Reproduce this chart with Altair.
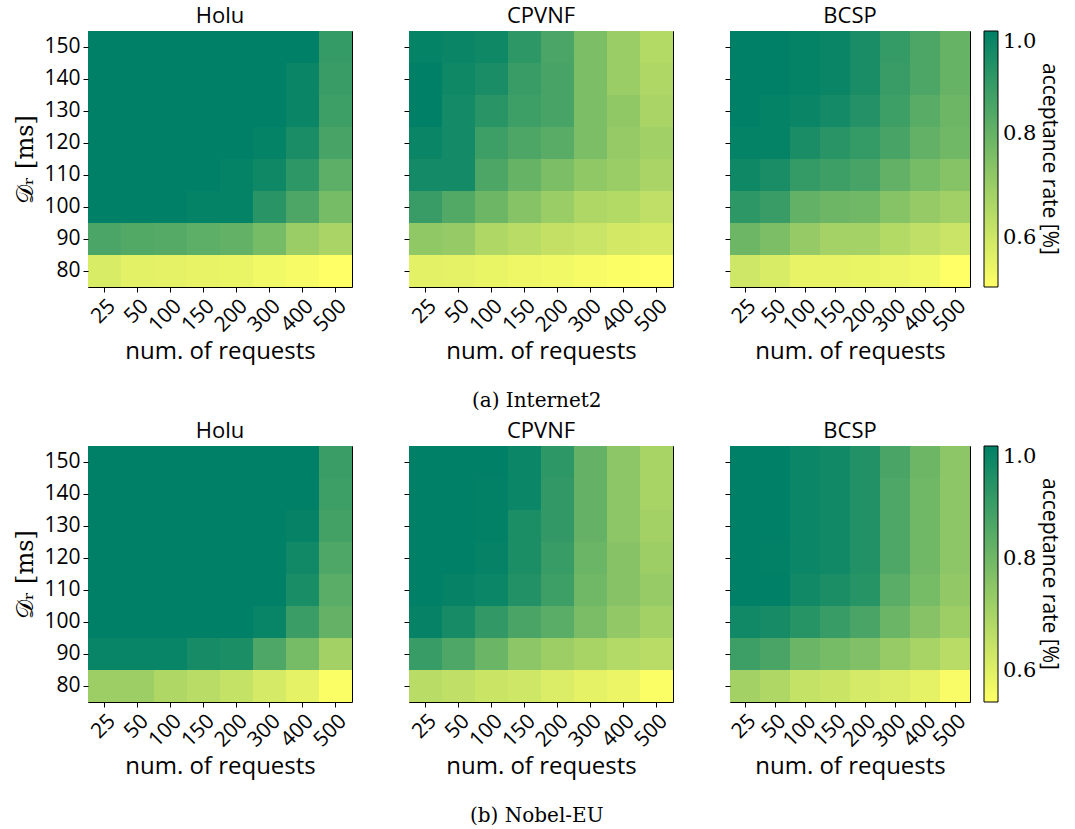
import altair as alt
import pandas as pd

# Axis categories
requests = ["25", "50", "100", "150", "200", "300", "400", "500"]
delays = ["150", "140", "130", "120", "110", "100", "90", "80"]

# Acceptance rates, one row per delay budget (150 ms at top down to 80 ms)
i2_holu = [
    [1.00, 1.00, 1.00, 1.00, 1.00, 1.00, 1.00, 0.90],
    [1.00, 1.00, 1.00, 1.00, 1.00, 1.00, 0.98, 0.89],
    [1.00, 1.00, 1.00, 1.00, 1.00, 1.00, 0.98, 0.88],
    [1.00, 1.00, 1.00, 1.00, 1.00, 0.99, 0.95, 0.86],
    [1.00, 1.00, 1.00, 1.00, 0.99, 0.97, 0.91, 0.82],
    [1.00, 1.00, 1.00, 0.99, 0.99, 0.92, 0.85, 0.77],
    [0.855, 0.84, 0.835, 0.82, 0.81, 0.77, 0.70, 0.67],
    [0.58, 0.56, 0.555, 0.55, 0.545, 0.53, 0.52, 0.505],
]
i2_cpvnf = [
    [0.99, 0.98, 0.97, 0.91, 0.855, 0.76, 0.70, 0.65],
    [1.00, 0.97, 0.95, 0.89, 0.86, 0.76, 0.70, 0.66],
    [1.00, 0.96, 0.92, 0.88, 0.86, 0.76, 0.72, 0.67],
    [0.98, 0.96, 0.88, 0.85, 0.83, 0.76, 0.71, 0.69],
    [0.96, 0.96, 0.85, 0.80, 0.76, 0.72, 0.70, 0.67],
    [0.89, 0.84, 0.79, 0.74, 0.70, 0.66, 0.65, 0.63],
    [0.72, 0.71, 0.66, 0.64, 0.62, 0.61, 0.59, 0.585],
    [0.56, 0.555, 0.545, 0.535, 0.53, 0.52, 0.51, 0.505],
]
i2_bcsp = [
    [1.00, 1.00, 0.99, 0.98, 0.95, 0.90, 0.85, 0.80],
    [1.00, 1.00, 0.99, 0.98, 0.95, 0.89, 0.85, 0.80],
    [1.00, 0.99, 0.98, 0.96, 0.93, 0.88, 0.83, 0.79],
    [0.99, 0.99, 0.95, 0.92, 0.90, 0.86, 0.81, 0.78],
    [0.97, 0.95, 0.90, 0.88, 0.86, 0.81, 0.77, 0.74],
    [0.91, 0.89, 0.81, 0.79, 0.78, 0.74, 0.71, 0.69],
    [0.79, 0.76, 0.71, 0.68, 0.68, 0.65, 0.63, 0.61],
    [0.60, 0.58, 0.55, 0.55, 0.545, 0.54, 0.53, 0.505],
]

eu_holu = [
    [1.00, 1.00, 1.00, 1.00, 1.00, 1.00, 1.00, 0.895],
    [1.00, 1.00, 1.00, 1.00, 1.00, 1.00, 1.00, 0.89],
    [1.00, 1.00, 1.00, 1.00, 1.00, 1.00, 0.99, 0.88],
    [1.00, 1.00, 1.00, 1.00, 1.00, 1.00, 0.97, 0.86],
    [1.00, 1.00, 1.00, 1.00, 1.00, 1.00, 0.955, 0.84],
    [1.00, 1.00, 1.00, 1.00, 1.00, 0.985, 0.895, 0.82],
    [0.985, 0.985, 0.985, 0.96, 0.95, 0.86, 0.79, 0.71],
    [0.72, 0.72, 0.69, 0.67, 0.65, 0.62, 0.59, 0.55],
]
eu_cpvnf = [
    [1.00, 1.00, 1.00, 0.98, 0.918, 0.82, 0.75, 0.70],
    [1.00, 1.00, 0.995, 0.98, 0.91, 0.82, 0.75, 0.70],
    [1.00, 1.00, 0.995, 0.95, 0.91, 0.82, 0.75, 0.71],
    [1.00, 1.00, 0.99, 0.95, 0.90, 0.81, 0.76, 0.72],
    [1.00, 0.99, 0.98, 0.94, 0.89, 0.80, 0.76, 0.73],
    [0.99, 0.96, 0.91, 0.87, 0.84, 0.78, 0.74, 0.71],
    [0.90, 0.86, 0.81, 0.75, 0.72, 0.70, 0.68, 0.67],
    [0.67, 0.66, 0.64, 0.63, 0.61, 0.59, 0.58, 0.55],
]
eu_bcsp = [
    [1.00, 1.00, 0.98, 0.97, 0.94, 0.87, 0.805, 0.75],
    [1.00, 1.00, 0.98, 0.97, 0.94, 0.86, 0.80, 0.75],
    [1.00, 1.00, 0.98, 0.97, 0.94, 0.86, 0.80, 0.75],
    [1.00, 0.995, 0.98, 0.97, 0.94, 0.86, 0.80, 0.75],
    [1.00, 1.00, 0.97, 0.95, 0.93, 0.84, 0.79, 0.74],
    [0.97, 0.96, 0.93, 0.90, 0.87, 0.81, 0.76, 0.72],
    [0.89, 0.87, 0.81, 0.79, 0.77, 0.73, 0.70, 0.67],
    [0.71, 0.69, 0.65, 0.64, 0.62, 0.61, 0.59, 0.555],
]

# Colour limits of each row's colour bar
i2_limits = [0.505, 1.0]
eu_limits = [0.545, 1.0]

SANS = "Open Sans"
SERIF = "DejaVu Serif"
RAMP = ["#ffff66", "#008066"]


def to_frame(values):
    recs = []
    for d, row in zip(delays, values):
        for r, v in zip(requests, row):
            recs.append({"req": r, "delay": d, "rate": v})
    return pd.DataFrame(recs)


def panel(values, name, limits, first, width):
    y_axis = alt.Axis(
        title="𝒟ᵣ [ms]" if first else None,
        labels=first,
        titleFont=SERIF,
        titleFontSize=24,
        titleFontWeight="normal",
        titlePadding=6,
    )
    return (
        alt.Chart(
            to_frame(values),
            title=alt.TitleParams(name, font=SANS, fontSize=22,
                                  fontWeight="normal", offset=3),
        )
        .mark_rect(strokeWidth=0)
        .encode(
            x=alt.X(
                "req:O",
                sort=requests,
                scale=alt.Scale(paddingInner=0, paddingOuter=0),
                axis=alt.Axis(title="num. of requests", labelAngle=-45,
                              labelAlign="right", labelBaseline="top",
                              titlePadding=4),
            ),
            y=alt.Y(
                "delay:O",
                sort=delays,
                scale=alt.Scale(paddingInner=0, paddingOuter=0),
                axis=y_axis,
            ),
            color=alt.Color(
                "rate:Q",
                scale=alt.Scale(domain=limits, range=RAMP, interpolate="rgb"),
                legend=alt.Legend(
                    title="acceptance rate [%]",
                    titleOrient="right",
                    titleAnchor="middle",
                    titleFont=SANS,
                    titleFontSize=21,
                    titleFontWeight="normal",
                    titleLimit=400,
                    titlePadding=3,
                    values=[0.6, 0.8, 1.0],
                    format=".1f",
                    labelFont=SERIF,
                    labelFontSize=21,
                    labelOffset=5,
                    gradientLength=256,
                    gradientThickness=14,
                    gradientStrokeColor="black",
                    gradientStrokeWidth=1,
                    offset=13,
                ),
            ),
        )
        .properties(width=width, height=256)
    )


def row(sets, limits, caption):
    names = ["Holu", "CPVNF", "BCSP"]
    widths = [264, 264, 240]
    charts = [panel(v, n, limits, i == 0, w)
              for i, (v, n, w) in enumerate(zip(sets, names, widths))]
    return alt.hconcat(
        *charts,
        spacing=50,
        title=alt.TitleParams(caption, orient="bottom", anchor="middle",
                              font=SERIF, fontSize=20, fontWeight="normal",
                              offset=27),
    )


top = row([i2_holu, i2_cpvnf, i2_bcsp], i2_limits, "(a) Internet2")
bottom = row([eu_holu, eu_cpvnf, eu_bcsp], eu_limits, "(b) Nobel-EU")

chart = (
    alt.vconcat(top, bottom, spacing=8)
    .resolve_scale(color="independent")
    .configure(padding={"left": 13, "top": 4, "right": 8, "bottom": 2})
    .configure_title(fontWeight="normal")
    .configure_view(stroke="black", strokeWidth=1)
    .configure_axis(
        labelFont=SANS,
        labelFontSize=21,
        labelColor="black",
        titleFont=SANS,
        titleFontSize=24,
        titleFontWeight="normal",
        titleColor="black",
        tickColor="black",
        tickSize=5,
        domain=False,
        grid=False,
        labelPadding=3,
    )
)

chart.save("out.html", embed_options={"renderer": "svg", "actions": False})
